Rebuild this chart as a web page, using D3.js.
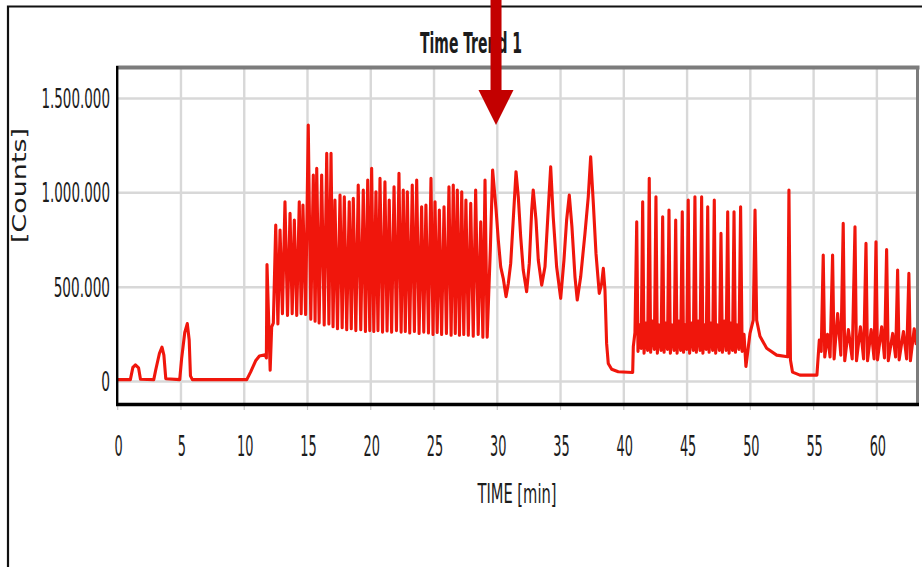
<!DOCTYPE html>
<html>
<head>
<meta charset="utf-8">
<script src="https://cdn.jsdelivr.net/npm/d3@7/dist/d3.min.js"></script>
<style>
  body { margin: 0; background: #fff; }
  svg { display: block; }
  text { font-family: "Liberation Sans Narrow", "DejaVu Sans Condensed", "Liberation Sans", sans-serif; fill: #1c1c1c; }
</style>
</head>
<body>
<svg width="922" height="567"></svg>
<script>
let chartTitle = 'Time Trend 1';
let xTitle = 'TIME [min]';
let yTitle = '[Counts]';
let xTicks = [0, 5, 10, 15, 20, 25, 30, 35, 40, 45, 50, 55, 60];
let yTicks = [0, 500000, 1000000, 1500000];
let yTickLabels = ['0', '500.000', '1.000.000', '1.500.000'];
let arrowTime = 29.9;

// [min, counts]
let warmupTrace = [
  [0, 10000], [1.0, 10000], [1.2, 75000], [1.4, 88000], [1.65, 72000], [1.8, 12000],
  [2.85, 10000], [3.0, 60000], [3.3, 150000], [3.5, 182000], [3.65, 140000], [3.8, 15000],
  [4.9, 10000], [5.05, 120000], [5.3, 260000], [5.5, 307000], [5.65, 220000], [5.75, 30000],
  [5.9, 10000], [10.2, 10000], [10.5, 50000], [10.9, 110000], [11.2, 135000], [11.65, 142000],
  [11.75, 125000], [11.8, 620000], [12.05, 60000], [12.17, 290000]
];

let burstPeaks = [
  [12.49, 829000], [12.83, 803000], [13.22, 953000], [13.62, 891000], [13.96, 856000],
  [14.35, 953000], [14.64, 935000], [15.06, 1359000], [15.46, 1094000], [15.73, 1130000],
  [16.12, 1094000], [16.52, 1209000], [16.86, 1209000], [17.17, 962000], [17.57, 988000],
  [17.91, 979000], [18.30, 953000], [18.62, 971000], [19.01, 1041000], [19.41, 1015000],
  [19.76, 1068000], [20.07, 1130000], [20.41, 1006000], [20.73, 1077000], [21.12, 1059000],
  [21.46, 962000], [21.84, 1032000], [22.23, 1103000], [22.57, 1015000], [22.89, 1006000],
  [23.28, 1041000], [23.63, 1068000], [24.02, 926000], [24.36, 935000], [24.76, 1077000],
  [25.08, 953000], [25.42, 909000], [25.79, 926000], [26.18, 1032000], [26.52, 1041000],
  [26.84, 1015000], [27.19, 1006000], [27.52, 962000], [27.90, 944000], [28.29, 1015000],
  [28.69, 847000], [29.03, 1068000]
];

let burstTroughs = [
  [12.3, 310000], [12.66, 305000], [13.02, 360000], [13.42, 350000], [13.79, 360000],
  [14.15, 350000], [14.5, 360000], [14.85, 355000], [15.26, 330000], [15.6, 320000],
  [15.92, 310000], [16.32, 300000], [16.69, 305000], [17.02, 290000], [17.37, 280000],
  [17.74, 285000], [18.1, 275000], [18.46, 280000], [18.82, 270000], [19.21, 275000],
  [19.58, 265000], [19.92, 270000], [20.24, 265000], [20.57, 270000], [20.93, 262000],
  [21.29, 268000], [21.65, 262000], [22.03, 270000], [22.4, 262000], [22.73, 265000],
  [23.08, 258000], [23.45, 265000], [23.82, 255000], [24.19, 262000], [24.56, 258000],
  [24.92, 250000], [25.25, 260000], [25.6, 250000], [25.98, 255000], [26.35, 245000],
  [26.68, 255000], [27.01, 245000], [27.35, 250000], [27.71, 245000], [28.1, 240000],
  [28.49, 250000], [28.86, 235000], [29.2, 235000]
];

let wideTrace = [
  [29.45, 700000], [29.63, 1121000], [29.9, 913000], [30.08, 750000], [30.27, 608000],
  [30.47, 547000], [30.69, 450000], [30.87, 520000], [31.06, 626000], [31.26, 856000],
  [31.48, 1112000], [31.66, 979000], [31.85, 767000], [32.05, 591000], [32.32, 476000],
  [32.53, 626000], [32.72, 909000], [32.84, 1015000], [33.06, 856000], [33.24, 644000],
  [33.51, 511000], [33.77, 608000], [33.98, 856000], [34.22, 1138000], [34.42, 873000],
  [34.69, 608000], [35.01, 441000], [35.27, 644000], [35.48, 856000], [35.69, 988000],
  [35.9, 820000], [36.14, 555000], [36.32, 432000], [36.59, 555000], [36.93, 785000],
  [37.19, 979000], [37.38, 1191000], [37.59, 944000], [37.8, 679000], [38.06, 467000],
  [38.25, 520000], [38.38, 600000], [38.51, 485000], [38.64, 202000], [38.77, 96000],
  [39.04, 65000], [39.56, 52000], [40.7, 48000]
];

let pulseTrace = [
  [40.75, 185000], [40.88, 260000], [41.02, 847000],
  [41.12, 160000], [41.25, 300000], [41.37, 175000], [41.49, 953000],
  [41.6, 150000], [41.75, 310000], [41.88, 165000], [42.01, 1077000],
  [42.12, 155000], [42.27, 320000], [42.41, 170000], [42.54, 979000],
  [42.65, 150000], [42.8, 300000], [42.94, 165000], [43.07, 873000],
  [43.18, 155000], [43.32, 310000], [43.45, 170000], [43.57, 909000],
  [43.68, 150000], [43.83, 300000], [43.97, 165000], [44.10, 856000],
  [44.21, 150000], [44.36, 320000], [44.49, 165000], [44.62, 900000],
  [44.72, 155000], [44.86, 300000], [44.97, 170000], [45.09, 962000],
  [45.2, 150000], [45.36, 310000], [45.49, 165000], [45.62, 979000],
  [45.73, 155000], [45.88, 320000], [46.02, 165000], [46.15, 979000],
  [46.25, 150000], [46.39, 300000], [46.51, 170000], [46.63, 926000],
  [46.74, 155000], [46.89, 310000], [47.02, 165000], [47.15, 962000],
  [47.26, 150000], [47.41, 300000], [47.55, 165000], [47.68, 785000],
  [47.79, 155000], [47.94, 320000], [48.08, 165000], [48.21, 900000],
  [48.32, 150000], [48.46, 310000], [48.59, 165000], [48.71, 900000],
  [48.82, 155000], [48.97, 300000], [49.1, 170000], [49.23, 926000],
  [49.35, 160000], [49.5, 250000], [49.65, 80000], [49.97, 255000], [50.23, 325000],
  [50.37, 909000], [50.5, 325000], [50.76, 240000], [51.29, 176000], [52.08, 140000],
  [52.95, 131000], [53.05, 1015000], [53.17, 114000], [53.33, 50000], [53.92, 34000],
  [55.26, 34000]
];

let tailTrace = [
  [55.45, 220000], [55.6, 160000], [55.76, 670000],
  [55.88, 130000], [56.1, 250000], [56.3, 130000], [56.5, 670000],
  [56.62, 120000], [56.9, 360000], [57.15, 140000], [57.34, 838000],
  [57.46, 110000], [57.75, 275000], [58.05, 120000], [58.27, 820000],
  [58.39, 110000], [58.7, 290000], [58.95, 120000], [59.14, 732000],
  [59.26, 110000], [59.55, 275000], [59.78, 120000], [59.93, 741000],
  [60.05, 115000], [60.38, 290000], [60.6, 125000], [60.77, 700000],
  [60.9, 110000], [61.25, 255000], [61.48, 130000], [61.64, 591000],
  [61.76, 115000], [62.1, 265000], [62.35, 120000], [62.53, 573000],
  [62.65, 110000], [62.95, 280000], [63.1, 200000], [63.25, 260000]
];

let svg = d3.select('svg');
let plotL = 117.7, plotR = 918, plotT = 66, plotB = 404;

let x = d3.scaleLinear().domain([0, 63.25]).range([plotL, plotR]);
let y = d3.scaleLinear().domain([-119000, 1672000]).range([plotB, plotT]);

svg.append('rect').attr('width', 922).attr('height', 567).attr('fill', '#fff');

// outer frame (top + left only)
svg.append('path')
  .attr('d', 'M8,567 L8,6.5 L922,6.5')
  .attr('fill', 'none').attr('stroke', '#111').attr('stroke-width', 2.2);

// grid
let grid = svg.append('g').attr('stroke', '#d8d8d8').attr('stroke-width', 2.4);
grid.selectAll('.hg').data(yTicks).enter().append('line')
  .attr('x1', plotL).attr('x2', plotR)
  .attr('y1', d => y(d)).attr('y2', d => y(d));
grid.selectAll('.vg').data(xTicks.filter(d => d > 0)).enter().append('line')
  .attr('y1', plotT).attr('y2', plotB)
  .attr('x1', d => x(d)).attr('x2', d => x(d));

// small tick marks under the x axis
svg.append('g').selectAll('line').data(xTicks).enter().append('line')
  .attr('x1', d => x(d)).attr('x2', d => x(d))
  .attr('y1', plotB).attr('y2', plotB + 6)
  .attr('stroke', '#c8c8c8').attr('stroke-width', 1.2);

// trace
let trace = [].concat(warmupTrace, burstPeaks, burstTroughs, wideTrace, pulseTrace, tailTrace)
  .sort((a, b) => a[0] - b[0]);

svg.append('clipPath').attr('id', 'plotClip')
  .append('rect').attr('x', plotL).attr('y', plotT).attr('width', plotR - plotL).attr('height', plotB - plotT);

let line = d3.line()
  .x(d => x(d[0]))
  .y(d => y(d[1]));

svg.append('path')
  .datum(trace)
  .attr('clip-path', 'url(#plotClip)')
  .attr('d', line)
  .attr('fill', 'none')
  .attr('stroke', '#f0160c')
  .attr('stroke-width', 3.1)
  .attr('stroke-linejoin', 'round');

// plot border
svg.append('line').attr('x1', plotL - 1.5).attr('x2', plotR + 1.5).attr('y1', plotT + 1.5).attr('y2', plotT + 1.5)
  .attr('stroke', '#7c7c7c').attr('stroke-width', 4);
svg.append('line').attr('x1', plotR - 0.5).attr('x2', plotR - 0.5).attr('y1', plotT).attr('y2', plotB)
  .attr('stroke', '#7c7c7c').attr('stroke-width', 3);
svg.append('line').attr('x1', plotL - 0.5).attr('x2', plotL - 0.5).attr('y1', plotT).attr('y2', plotB + 1)
  .attr('stroke', '#000').attr('stroke-width', 2.4);
svg.append('line').attr('x1', plotL - 1.7).attr('x2', plotR + 1).attr('y1', plotB + 0.5).attr('y2', plotB + 0.5)
  .attr('stroke', '#000').attr('stroke-width', 3.4);

// tick labels
svg.append('g').selectAll('text').data(yTicks).enter().append('text')
  .attr('x', 110)
  .attr('y', d => y(d) + 9.5)
  .attr('text-anchor', 'end')
  .attr('font-size', 27)
  .attr('textLength', (d, i) => {
    let s = yTickLabels[i];
    let digits = s.replace(/\./g, '').length;
    return digits * 8.8 + (s.length - digits) * 3.5;
  })
  .attr('lengthAdjust', 'spacingAndGlyphs')
  .text((d, i) => yTickLabels[i]);

svg.append('g').selectAll('text').data(xTicks).enter().append('text')
  .attr('x', d => x(d) + 1)
  .attr('y', 456)
  .attr('text-anchor', 'middle')
  .attr('font-size', 29)
  .attr('textLength', d => String(d).length * 8.2)
  .attr('lengthAdjust', 'spacingAndGlyphs')
  .text(d => d);

// titles
svg.append('text')
  .attr('x', 471).attr('y', 53)
  .attr('text-anchor', 'middle')
  .attr('font-size', 28)
  .attr('font-weight', 'bold')
  .attr('textLength', 102)
  .attr('lengthAdjust', 'spacingAndGlyphs')
  .text(chartTitle);

svg.append('text')
  .attr('x', 517).attr('y', 503)
  .attr('text-anchor', 'middle')
  .attr('font-size', 27)
  .attr('textLength', 79)
  .attr('lengthAdjust', 'spacingAndGlyphs')
  .text(xTitle);

svg.append('text')
  .attr('transform', 'translate(26,185.5) rotate(-90)')
  .attr('text-anchor', 'middle')
  .attr('font-size', 19)
  .attr('textLength', 115)
  .attr('lengthAdjust', 'spacingAndGlyphs')
  .text(yTitle);

// red arrow annotation
let ax = x(arrowTime);
let arrow = svg.append('g').attr('fill', '#c30000');
arrow.append('rect').attr('x', ax - 5.5).attr('y', 0).attr('width', 11).attr('height', 91);
arrow.append('path').attr('d', `M${ax - 17.5},90 L${ax + 17.5},90 L${ax},125 Z`);
</script>
</body>
</html>
